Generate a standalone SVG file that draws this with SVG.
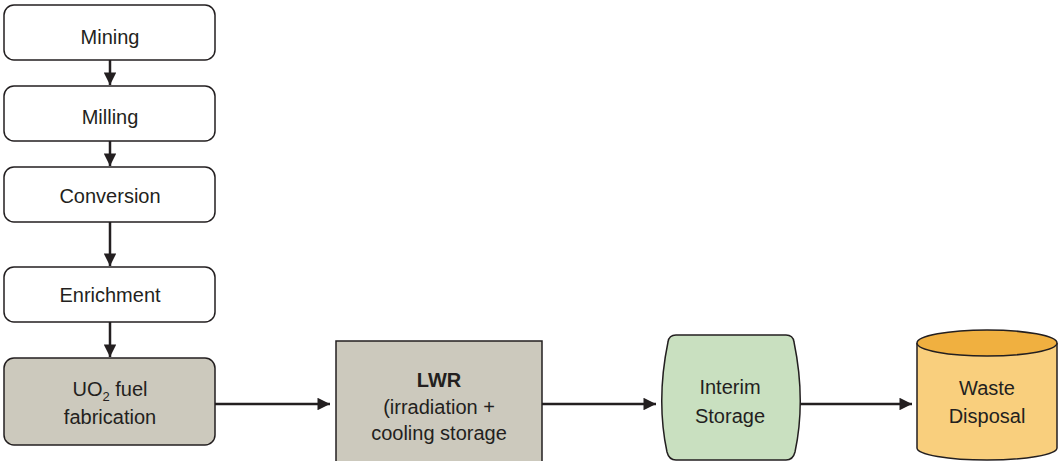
<svg xmlns="http://www.w3.org/2000/svg" width="1059" height="461" viewBox="0 0 1059 461">
<defs>
<style>
.box{fill:#ffffff;stroke:#231f20;stroke-width:1.5}
.gray{fill:#ccc9bd;stroke:#231f20;stroke-width:1.5}
.t{font-family:"Liberation Sans",Arial,sans-serif;font-size:20px;fill:#231f20;text-anchor:middle}
.b{font-weight:bold}
.c{stroke:#231f20;stroke-width:2.5;fill:none;marker-end:url(#ah)}
</style>
<marker id="ah" viewBox="0 0 10 10" refX="10" refY="5" markerWidth="6" markerHeight="5" markerUnits="strokeWidth" orient="auto">
<path d="M0,0 L10,5 L0,10 z" fill="#231f20"/>
</marker>
</defs>
<rect width="1059" height="461" fill="#ffffff"/>
<g id="connectors">
<line class="c" x1="110" y1="60" x2="110" y2="85"/>
<line class="c" x1="110" y1="141" x2="110" y2="166"/>
<line class="c" x1="110" y1="222" x2="110" y2="266"/>
<line class="c" x1="110" y1="322" x2="110" y2="357"/>
<line class="c" x1="215" y1="404" x2="330" y2="404"/>
<line class="c" x1="542" y1="404" x2="656" y2="404"/>
<line class="c" x1="800" y1="404" x2="912" y2="404"/>
</g>
<g id="mining">
<rect class="box" x="4" y="5" width="211" height="55" rx="10"/>
<text class="t" x="110" y="44">Mining</text>
</g>
<g id="milling">
<rect class="box" x="4" y="86" width="211" height="55" rx="10"/>
<text class="t" x="110" y="124">Milling</text>
</g>
<g id="conversion">
<rect class="box" x="4" y="167" width="211" height="55" rx="10"/>
<text class="t" x="110" y="203">Conversion</text>
</g>
<g id="enrichment">
<rect class="box" x="4" y="267" width="211" height="55" rx="10"/>
<text class="t" x="110" y="302">Enrichment</text>
</g>
<g id="fabrication">
<rect class="gray" x="4" y="358" width="211" height="87" rx="10"/>
<text class="t" x="110" y="396">UO<tspan font-size="13" dy="5">2</tspan><tspan dy="-5"> fuel</tspan></text>
<text class="t" x="110" y="424">fabrication</text>
</g>
<g id="lwr">
<rect class="gray" x="336" y="341" width="206" height="140"/>
<text class="t b" x="439" y="387">LWR</text>
<text class="t" x="439" y="414">(irradiation +</text>
<text class="t" x="439" y="440">cooling storage</text>
</g>
<g id="interim">
<path d="M676,335 L786,335 Q793,335 794,342 Q806,400 795,452 Q793,460 786,460 L676,460 Q669,460 667,452 Q656,400 668,342 Q669,335 676,335 Z" fill="#c9e0c0" stroke="#231f20" stroke-width="1.5"/>
<text class="t" x="730" y="394">Interim</text>
<text class="t" x="730" y="423">Storage</text>
</g>
<g id="waste">
<path d="M917,343 L917,448 A70,12 0 0 0 1057,448 L1057,343" fill="#f9cf7d" stroke="#231f20" stroke-width="1.5"/>
<ellipse cx="987" cy="343" rx="70" ry="13" fill="#f0b040" stroke="#231f20" stroke-width="1.5"/>
<text class="t" x="987" y="395">Waste</text>
<text class="t" x="987" y="423">Disposal</text>
</g>
</svg>
